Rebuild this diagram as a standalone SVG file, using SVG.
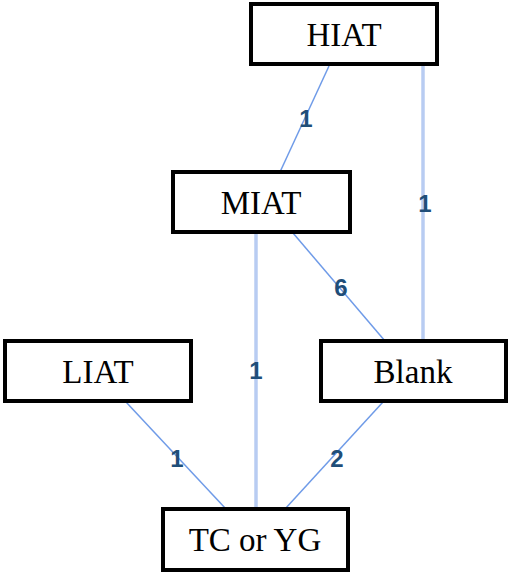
<svg xmlns="http://www.w3.org/2000/svg" width="510" height="574" viewBox="0 0 510 574">
<style>
.box{fill:#fff;stroke:#000;stroke-width:4}
.t{font-family:"Liberation Serif","Times New Roman",serif;font-size:33px;fill:#000;text-anchor:middle}
.thin{stroke:#6f9be8;stroke-width:1.5;fill:none}
.thick{stroke:#b8ccf2;stroke-width:3.5;fill:none}
.lbl{font-family:"Liberation Sans",Arial,sans-serif;font-weight:bold;font-size:24px;fill:#1f4e79;text-anchor:middle}
</style>
<rect width="510" height="574" fill="#fff"/>
<g id="connectors">
<line class="thin" x1="329" y1="66" x2="280" y2="172"/>
<line class="thick" x1="423" y1="66" x2="423" y2="341"/>
<line class="thick" x1="256" y1="233" x2="256" y2="509"/>
<line class="thin" x1="293" y1="233" x2="385" y2="341"/>
<line class="thin" x1="126" y1="402" x2="226" y2="509"/>
<line class="thin" x1="383" y1="402" x2="285" y2="509"/>
<text class="lbl" x="306" y="127">1</text>
<text class="lbl" x="425" y="212">1</text>
<text class="lbl" x="341" y="296">6</text>
<text class="lbl" x="256" y="379">1</text>
<text class="lbl" x="177" y="467">1</text>
<text class="lbl" x="337" y="467">2</text>
</g>
<g id="HIAT"><rect class="box" x="251" y="4" width="186" height="60"/><text class="t" x="344" y="46">HIAT</text></g>
<g id="MIAT"><rect class="box" x="173" y="172" width="177" height="60"/><text class="t" x="261" y="214">MIAT</text></g>
<g id="LIAT"><rect class="box" x="5" y="341" width="186" height="60"/><text class="t" x="98" y="383">LIAT</text></g>
<g id="Blank"><rect class="box" x="321" y="341" width="185" height="60"/><text class="t" x="413" y="383">Blank</text></g>
<g id="TCorYG"><rect class="box" x="163" y="509" width="185" height="61"/><text class="t" x="255" y="551">TC or YG</text></g>
</svg>
